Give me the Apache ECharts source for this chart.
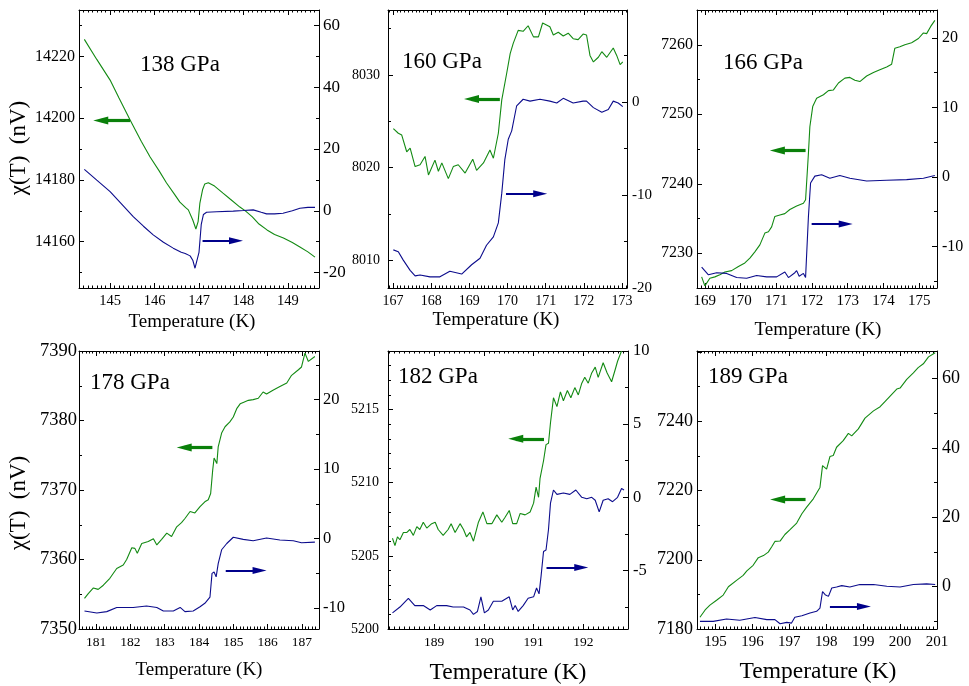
<!DOCTYPE html>
<html><head><meta charset="utf-8">
<script src="https://cdn.jsdelivr.net/npm/echarts@6/dist/echarts.min.js"></script>
<style>html,body{margin:0;padding:0;background:#fff}#c{width:969px;height:686px}</style>
</head><body><div id="c"></div>
<script>
// ---------------- data ----------------
const pressureLabels = ['138 GPa','160 GPa','166 GPa','178 GPa','182 GPa','189 GPa'];
const xTitle = 'Temperature (K)';
const yTitle = 'χ(T)  (nV)';

const green138 = [[144.42,14225.5],[144.7,14219],[145.0,14212.3],[145.2,14206.5],[145.45,14199.4],[145.7,14192.5],[145.9,14187.4],[146.1,14183],[146.27,14179],[146.45,14175.3],[146.57,14172.8],[146.7,14171],[146.76,14170.3],[146.86,14167],[146.93,14164.1],[146.98,14166.5],[147.02,14172.5],[147.08,14176.8],[147.13,14178.7],[147.21,14179.1],[147.35,14178],[147.54,14175.7],[147.7,14173.8],[147.92,14171.2],[148.05,14169.9],[148.2,14168],[148.35,14165.7],[148.53,14163.8],[148.7,14162.3],[148.9,14161.2],[149.1,14159.7],[149.27,14158.3],[149.45,14156.7],[149.61,14155]];
const blue138 = [[144.42,13.4],[144.7,9.9],[145.0,6.2],[145.25,2.3],[145.52,-1.9],[145.75,-5.0],[145.97,-7.8],[146.2,-10.2],[146.42,-12.1],[146.6,-13.4],[146.69,-13.8],[146.8,-14.6],[146.86,-16.0],[146.91,-18.6],[146.95,-18.3],[147.0,-13.5],[147.05,-4.5],[147.1,-1.2],[147.17,-0.5],[147.4,-0.3],[147.77,-0.1],[148.0,0.1],[148.22,0.3],[148.4,-0.5],[148.52,-1.0],[148.7,-1.0],[148.89,-0.8],[149.1,0.0],[149.27,0.8],[149.45,1.1],[149.61,1.1]];

const green160 = [[167.01,8024.2],[167.14,8023.7],[167.23,8023.5],[167.36,8021.7],[167.45,8022.1],[167.58,8020.1],[167.71,8020.3],[167.84,8021.2],[167.93,8019.2],[168.1,8020.8],[168.19,8019.6],[168.28,8020.5],[168.45,8018.8],[168.58,8020.1],[168.71,8020.3],[168.89,8019.4],[169.09,8020.9],[169.19,8019.7],[169.37,8020.5],[169.54,8021.9],[169.63,8021.0],[169.76,8023.7],[169.85,8027.3],[169.98,8030.2],[170.07,8032.3],[170.15,8033.4],[170.28,8034.8],[170.41,8034.7],[170.54,8035.3],[170.68,8034.1],[170.81,8034.1],[170.92,8035.6],[171.11,8035.2],[171.2,8034.3],[171.33,8034.6],[171.46,8034.2],[171.59,8034.5],[171.72,8033.9],[171.85,8033.8],[171.98,8034.4],[172.07,8034.3],[172.16,8032.1],[172.25,8031.4],[172.38,8031.9],[172.47,8032.5],[172.6,8031.9],[172.77,8032.9],[172.86,8032.1],[172.95,8031.1],[173.02,8031.4]];
const blue160 = [[167.01,-15.9],[167.14,-16.1],[167.27,-17.0],[167.45,-18.1],[167.58,-18.7],[167.71,-18.6],[167.97,-18.8],[168.23,-18.8],[168.49,-18.2],[168.8,-18.5],[169.06,-17.5],[169.28,-16.8],[169.45,-15.4],[169.63,-14.5],[169.76,-13.0],[169.85,-9.8],[169.93,-6.2],[170.02,-4.0],[170.11,-3.1],[170.24,-0.4],[170.41,0.3],[170.59,0.1],[170.85,0.3],[171.11,0.1],[171.29,-0.1],[171.46,0.4],[171.72,-0.1],[171.98,0.1],[172.07,0.1],[172.25,-0.6],[172.47,-1.1],[172.64,-0.8],[172.77,0.1],[172.9,-0.1],[173.02,-0.5]];

const green166 = [[168.91,7226.6],[169.0,7225.3],[169.14,7226.4],[169.28,7226.6],[169.42,7226.9],[169.56,7227.3],[169.75,7227.5],[169.94,7228.1],[170.12,7228.6],[170.26,7229.3],[170.4,7230.2],[170.54,7231.2],[170.68,7232.9],[170.78,7233.1],[170.87,7233.8],[170.96,7235.3],[171.1,7235.5],[171.24,7235.7],[171.38,7236.3],[171.57,7236.8],[171.76,7237.2],[171.82,7237.7],[171.9,7244.4],[171.94,7248.2],[172.02,7251.1],[172.13,7252.3],[172.32,7252.8],[172.46,7253.4],[172.6,7253.5],[172.74,7254.5],[172.92,7255.2],[173.06,7255.3],[173.2,7254.9],[173.34,7254.7],[173.53,7255.5],[173.72,7256.0],[173.9,7256.4],[174.09,7256.8],[174.23,7257.2],[174.32,7259.5],[174.46,7259.7],[174.6,7260.0],[174.79,7260.3],[174.98,7260.9],[175.12,7261.7],[175.21,7261.6],[175.32,7262.6],[175.44,7263.5]];
const blue166 = [[168.91,-13.0],[169.1,-14.1],[169.33,-13.8],[169.61,-13.9],[169.89,-14.5],[170.17,-14.6],[170.45,-14.2],[170.73,-14.4],[171.01,-14.4],[171.24,-13.7],[171.34,-14.5],[171.52,-13.8],[171.57,-13.5],[171.64,-14.3],[171.76,-13.9],[171.82,-14.5],[171.9,-5.7],[171.96,-0.9],[172.08,0.1],[172.27,0.3],[172.5,-0.2],[172.78,0.2],[173.06,-0.2],[173.53,-0.6],[174.09,-0.5],[174.65,-0.4],[175.12,-0.2],[175.44,0.2]];

const green178 = [[180.66,7354.4],[180.77,7355.1],[180.92,7355.9],[181.06,7355.7],[181.21,7356.3],[181.4,7357.3],[181.6,7358.7],[181.79,7359.2],[181.89,7360.0],[182.04,7361.7],[182.13,7361.6],[182.2,7360.9],[182.33,7362.3],[182.52,7362.6],[182.67,7363.0],[182.77,7362.1],[182.91,7362.9],[183.06,7363.8],[183.2,7363.3],[183.35,7364.7],[183.49,7365.3],[183.59,7365.9],[183.74,7366.9],[183.88,7366.7],[184.03,7367.6],[184.17,7368.3],[184.27,7368.6],[184.34,7369.5],[184.4,7372.9],[184.44,7374.6],[184.52,7373.8],[184.56,7376.2],[184.66,7378.2],[184.76,7379.1],[184.9,7379.8],[185.0,7380.5],[185.1,7381.7],[185.2,7382.4],[185.29,7382.6],[185.44,7382.9],[185.58,7383.0],[185.73,7383.2],[185.87,7384.1],[185.97,7383.8],[186.17,7384.4],[186.36,7384.9],[186.56,7385.4],[186.7,7386.5],[186.9,7387.3],[186.99,7387.7],[187.09,7389.7],[187.19,7388.5],[187.38,7389.2]];
const blue178 = [[180.66,-10.4],[181.02,-10.7],[181.31,-10.5],[181.6,-9.9],[182.08,-9.9],[182.47,-9.7],[182.77,-9.9],[182.96,-10.4],[183.25,-10.4],[183.45,-9.9],[183.59,-10.5],[183.83,-10.4],[184.03,-9.8],[184.17,-9.3],[184.32,-8.4],[184.38,-5.0],[184.44,-4.8],[184.5,-5.5],[184.56,-3.6],[184.66,-1.6],[184.81,-0.7],[185.0,0.2],[185.29,-0.1],[185.58,-0.3],[185.97,0.1],[186.36,-0.2],[186.75,-0.3],[186.99,-0.6],[187.38,-0.5]];

const green182 = [[188.16,5206.2],[188.21,5205.7],[188.26,5206.3],[188.31,5206.1],[188.38,5206.6],[188.45,5206.6],[188.51,5206.8],[188.58,5206.4],[188.65,5207.0],[188.71,5206.8],[188.78,5207.3],[188.85,5206.9],[188.95,5207.2],[189.02,5207.3],[189.08,5206.8],[189.18,5206.4],[189.28,5206.8],[189.34,5207.2],[189.42,5206.6],[189.52,5207.2],[189.59,5206.8],[189.65,5206.3],[189.72,5206.6],[189.79,5206.0],[189.89,5207.3],[189.98,5208.0],[190.06,5207.2],[190.16,5207.2],[190.26,5207.8],[190.36,5207.3],[190.42,5207.6],[190.51,5208.1],[190.58,5207.2],[190.66,5207.2],[190.73,5207.9],[190.83,5207.8],[190.93,5208.0],[191.0,5208.6],[191.05,5209.7],[191.1,5209.0],[191.13,5210.3],[191.2,5211.5],[191.25,5212.6],[191.3,5212.7],[191.34,5214.1],[191.4,5215.8],[191.47,5215.2],[191.54,5216.2],[191.6,5215.6],[191.68,5216.3],[191.75,5215.8],[191.83,5216.5],[191.9,5216.0],[191.97,5216.8],[192.03,5217.2],[192.1,5216.8],[192.17,5217.5],[192.24,5217.9],[192.3,5217.2],[192.4,5218.2],[192.48,5217.5],[192.57,5216.9],[192.64,5217.7],[192.69,5218.3],[192.77,5219.0]];
const blue182 = [[188.16,-7.9],[188.31,-7.5],[188.48,-6.9],[188.61,-7.4],[188.78,-7.4],[188.92,-7.7],[189.05,-7.4],[189.25,-7.4],[189.38,-7.5],[189.59,-7.5],[189.72,-7.7],[189.79,-8.0],[189.87,-7.8],[189.94,-6.8],[190.01,-7.9],[190.09,-7.7],[190.19,-7.1],[190.36,-7.1],[190.51,-6.8],[190.58,-7.7],[190.63,-7.4],[190.69,-7.8],[190.79,-7.4],[190.89,-6.9],[191.0,-6.8],[191.06,-6.2],[191.11,-6.6],[191.15,-5.4],[191.2,-3.7],[191.25,-3.6],[191.3,-2.2],[191.34,-0.4],[191.4,0.5],[191.47,0.2],[191.6,0.3],[191.73,0.2],[191.85,0.5],[191.97,0.0],[192.07,-0.1],[192.17,0.0],[192.24,-0.2],[192.32,-1.0],[192.4,-0.2],[192.5,-0.1],[192.59,-0.3],[192.69,0.0],[192.77,0.6],[192.82,0.5]];

const green189 = [[194.58,7183.4],[194.72,7185.5],[194.85,7186.9],[195.03,7188.3],[195.21,7189.8],[195.35,7192.2],[195.58,7194.1],[195.75,7195.5],[195.85,7196.8],[196.02,7198.4],[196.16,7200.6],[196.3,7201.2],[196.43,7202.2],[196.52,7203.7],[196.61,7205.3],[196.75,7205.4],[196.88,7207.3],[197.02,7208.7],[197.2,7210.6],[197.34,7213.3],[197.47,7215.2],[197.65,7217.6],[197.83,7220.9],[197.9,7227.2],[198.01,7226.2],[198.1,7229.8],[198.19,7230.1],[198.28,7232.5],[198.46,7234.4],[198.6,7236.5],[198.69,7235.8],[198.87,7237.8],[199.05,7240.9],[199.28,7243.0],[199.46,7244.2],[199.59,7245.7],[199.82,7248.3],[199.91,7249.3],[200.0,7249.6],[200.18,7252.1],[200.36,7254.0],[200.49,7255.5],[200.63,7256.6],[200.77,7258.6],[200.95,7259.8]];
const blue189 = [[194.58,-10.0],[194.94,-10.0],[195.3,-9.3],[195.66,-9.7],[196.07,-8.9],[196.39,-9.5],[196.61,-9.5],[196.75,-10.7],[196.93,-10.3],[197.06,-10.5],[197.15,-8.8],[197.34,-8.4],[197.56,-7.6],[197.74,-7.1],[197.83,-6.2],[197.9,-1.4],[197.97,-2.3],[198.06,-2.8],[198.15,-0.4],[198.28,-0.1],[198.42,0.3],[198.64,-0.1],[198.91,0.6],[199.28,0.6],[199.64,0.1],[200.0,-0.1],[200.36,0.6],[200.72,0.8],[200.95,0.6]];

// axis ranges [min,max] for each panel
const xRanges  = [[144.3,149.7],[166.87,173.13],[168.78,175.5],[180.5,187.5],[188.07,192.9],[194.5,201]];
const yLRanges = [[14145,14235],[8007,8037],[7225,7265],[7350,7390],[5200,5219],[7180,7260.3]];
const yRRanges = [[-25,65],[-20,9.9],[-16,24],[-13,27],[-9,10],[-12.2,67.9]];
// left tick labels that the reference leaves out
const yLHidden = [[],[],[],[],[],[7260]];
// arrow annotations in data units: [tailX, tipX, y]
const greenArrows = [[145.45,144.62,14199.2],[169.8,168.86,8027.4],[171.82,170.82,7244.8],[184.39,183.35,7376.1],[191.21,190.49,5213.0],[197.44,196.48,7217.4]];
const blueArrows  = [[147.08,147.99,-9.7],[169.96,171.04,-9.85],[171.99,173.14,-6.8],[184.78,185.97,-4.6],[191.26,192.1,-4.8],[198.1,199.21,-5.7]];

const greens = [green138,green160,green166,green178,green182,green189];
const blues  = [blue138,blue160,blue166,blue178,blue182,blue189];

// ---------------- layout / style ----------------
const FONT = '"Liberation Serif", "Times New Roman", serif';
const GREEN = '#138a13', BLUE = '#0c0c8c';
const grids = [
  {left:79, top:10, width:240, height:278},
  {left:388, top:10, width:239, height:278},
  {left:697, top:10, width:240, height:278},
  {left:79, top:351, width:240, height:278},
  {left:388, top:351, width:240, height:278},
  {left:697, top:351, width:240, height:278}
];
const sty = [
  {lSplit:5, rSplit:5, lStep:20, rStep:20, lMinor:2, rMinor:2, fl:16, fr:17, fx:14.5, lm:4, rm:4},
  {lSplit:3, rSplit:3, lStep:10, rStep:10, lMinor:2, rMinor:2, fl:14, fr:15, fx:14, lm:8, rm:5},
  {lSplit:5, rSplit:5, lStep:10, rStep:10, lMinor:2, rMinor:2, fl:16, fr:16, fx:15, lm:4, rm:5},
  {lSplit:5, rSplit:5, lStep:10, rStep:10, lMinor:2, rMinor:2, fl:18.5, fr:16.5, fx:13.5, lm:2, rm:4},
  {lSplit:4, rSplit:4, lStep:5, rStep:5, lMinor:5, rMinor:2, fl:14, fr:16.5, fx:13.5, lm:9, rm:5},
  {lSplit:5, rSplit:5, lStep:20, rStep:20, lMinor:2, rMinor:2, fl:18, fr:18, fx:15, lm:4, rm:5}
];
const pressPos = [[140,65],[402,62],[723,63],[90,383],[398,377],[708,377]];
const xTitlePos = [[192,322,19],[496,320,19],[818,330,19],[199,670,19],[508,673,23.5],[818,672,23.5]];
const yTitlePos = [[19,148],[19,503]];

function fmt(step, hide){
  return function(v){
    if (hide && hide.some(h => Math.abs(h - v) < 1e-9)) return '';
    const r = v / step;
    return Math.abs(r - Math.round(r)) < 1e-6 ? String(Math.round(v * 1000) / 1000) : '';
  };
}
const blk = {color:'#000', width:1};
function xAx(i, pos){
  const r = xRanges[i], s = sty[i];
  return {gridIndex:i, type:'value', position:pos, min:r[0], max:r[1], splitNumber:5,
    axisLine:{show:true, onZero:false, lineStyle:blk},
    axisTick:{show:true, inside:true, length:5, lineStyle:blk},
    minorTick:{show:true, splitNumber:10, length:2.5, lineStyle:blk},
    splitLine:{show:false}, minorSplitLine:{show:false},
    axisLabel:{show: pos==='bottom', fontFamily:FONT, fontSize:s.fx, color:'#000', margin:6, formatter: fmt(1)}
  };
}
function yAx(i, side){
  const r = side==='left' ? yLRanges[i] : yRRanges[i], s = sty[i];
  const split = side==='left' ? s.lSplit : s.rSplit;
  const step = side==='left' ? s.lStep : s.rStep;
  const minor = side==='left' ? s.lMinor : s.rMinor;
  const hide = side==='left' ? yLHidden[i] : [];
  return {gridIndex:i, type:'value', position:side, min:r[0], max:r[1], splitNumber:split,
    axisLine:{show:true, onZero:false, lineStyle:blk},
    axisTick:{show:true, inside:true, length:5, lineStyle:blk},
    minorTick:{show:true, splitNumber:minor, length:3, lineStyle:blk},
    splitLine:{show:false}, minorSplitLine:{show:false},
    axisLabel:{fontFamily:FONT, fontSize: side==='left'?s.fl:s.fr, color:'#000', margin: side==='left'?s.lm:s.rm, formatter: fmt(step, hide)}
  };
}
function arrowLine(color, width, head, a, i){
  const g = grids[i], r = xRanges[i];
  const pxPerX = g.width / (r[1] - r[0]);
  const dir = Math.sign(a[1] - a[0]);
  const back = (head[1] / 2) / pxPerX;
  return {silent:true, animation:false, symbol:['none','triangle'], symbolSize:head,
    label:{show:false}, emphasis:{disabled:true},
    lineStyle:{color:color, width:width, type:'solid', opacity:1}, itemStyle:{color:color},
    data:[[{coord:[a[0], a[2]]},{coord:[a[1] - dir*back, a[2]]}]]};
}

const xAxes = [], yAxes = [], series = [];
for (let i = 0; i < 6; i++){
  xAxes.push(xAx(i,'bottom')); xAxes.push(xAx(i,'top'));
  yAxes.push(yAx(i,'left')); yAxes.push(yAx(i,'right'));
  series.push({type:'line', xAxisIndex:2*i, yAxisIndex:2*i, data:greens[i], symbol:'none', showSymbol:false,
    lineStyle:{color:GREEN, width:1.1}, itemStyle:{color:GREEN}, animation:false, silent:true,
    markLine: arrowLine('#0a800a', 3.2, [8,15], greenArrows[i], i)});
  series.push({type:'line', xAxisIndex:2*i, yAxisIndex:2*i+1, data:blues[i], symbol:'none', showSymbol:false,
    lineStyle:{color:BLUE, width:1.1}, itemStyle:{color:BLUE}, animation:false, silent:true,
    markLine: arrowLine('#00008b', 2, [7,14], blueArrows[i], i)});
}

function txt(x, y, text, size, align, rot){
  const o = {type:'text', x:x, y:y,
    style:{text:text, font: size + 'px ' + FONT, fill:'#000',
      textAlign:align, textVerticalAlign:'middle', align:align, verticalAlign:'middle'}};
  if (rot) o.rotation = rot;
  return o;
}
const graphic = [];
pressureLabels.forEach((t, i) => graphic.push(txt(pressPos[i][0], pressPos[i][1], t, 23, 'left')));
xTitlePos.forEach(p => graphic.push(txt(p[0], p[1], xTitle, p[2], 'center')));
yTitlePos.forEach(p => graphic.push(txt(p[0], p[1], yTitle, 23, 'center', Math.PI/2)));

const chart = echarts.init(document.getElementById('c'), null, {renderer:'canvas', width:969, height:686});
chart.setOption({
  animation:false,
  backgroundColor:'#fff',
  grid: grids,
  xAxis: xAxes,
  yAxis: yAxes,
  series: series,
  graphic: graphic
});
</script>
</body></html>
